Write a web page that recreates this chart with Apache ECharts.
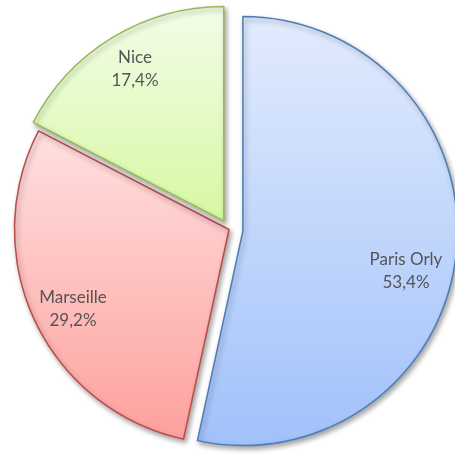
<!DOCTYPE html>
<html>
<head>
<meta charset="utf-8">
<script src="https://cdn.jsdelivr.net/npm/echarts@6/dist/echarts.min.js"></script>
<style>
  html, body { margin: 0; padding: 0; background: #fff; }
  #chart { width: 455px; height: 455px; }
</style>
</head>
<body>
<div id="chart"></div>
<script>
// data
const categories = ['Paris Orly', 'Marseille', 'Nice']
const values = [53.4, 29.2, 17.4]

// styling per slice
const topColors = ['#e2ebfd', '#ffe0e0', '#f3fde8']
const bottomColors = ['#a1c1fa', '#fda19d', '#d6f8a3']
const borderColors = ['#4a7ebb', '#be4b48', '#98b954']
const explode = [14, 0, 10]
const labelPos = [[406, 271], [73, 309], [135, 69]]

const cx = 229
const cy = 229.5
const radius = 214.5

const total = values.reduce((a, b) => a + b, 0)
let acc = 0
const midAngles = values.map((v) => {
  const mid = (acc + v / 2) / total * 2 * Math.PI
  acc += v
  return mid
})

function fmt(v) {
  return v.toFixed(1).replace('.', ',') + '%'
}

const series = categories.map((_, k) => {
  const ox = Math.sin(midAngles[k]) * explode[k]
  const oy = -Math.cos(midAngles[k]) * explode[k]
  return {
    type: 'pie',
    center: [cx + ox, cy + oy],
    radius: radius,
    startAngle: 90,
    clockwise: true,
    animation: false,
    silent: true,
    z: k === 0 ? 1 : 2,
    labelLine: { show: false },
    labelLayout: (p) => ({
      x: labelPos[p.dataIndex][0],
      y: labelPos[p.dataIndex][1],
      align: 'center',
      verticalAlign: 'middle'
    }),
    data: categories.map((name, i) => {
      const own = i === k
      return {
        name,
        value: values[i],
        itemStyle: own
          ? {
              color: {
                type: 'linear',
                x: 0, y: 0, x2: 0, y2: 1,
                colorStops: [
                  { offset: 0, color: topColors[i] },
                  { offset: 1, color: bottomColors[i] }
                ]
              },
              borderColor: borderColors[i],
              borderWidth: 1.5,
              shadowBlur: 5,
              shadowOffsetX: 2,
              shadowOffsetY: 3,
              shadowColor: 'rgba(0,0,0,0.35)'
            }
          : { color: 'transparent', borderWidth: 0, shadowColor: 'transparent' },
        label: own
          ? {
              show: true,
              position: 'inside',
              formatter: (p) => p.name + '\n' + fmt(p.value),
              color: '#555555',
              fontFamily: 'Lato',
              fontSize: 17,
              lineHeight: 23
            }
          : { show: false }
      }
    })
  }
})

const chart = echarts.init(document.getElementById('chart'), null, { renderer: 'canvas' })
chart.setOption({
  backgroundColor: '#ffffff',
  series
})
</script>
</body>
</html>
